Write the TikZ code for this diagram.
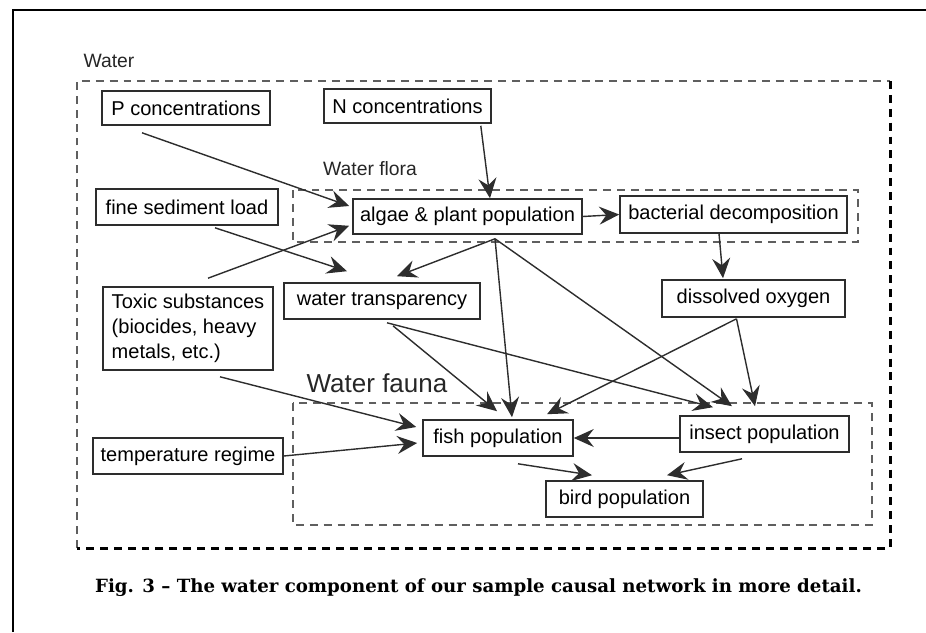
\documentclass[tikz,border=0pt]{standalone}
\usepackage{fontspec}
\setmainfont{Liberation Sans}
\newfontfamily\capfont{DejaVu Serif}
\usepackage{tikz}
\usetikzlibrary{arrows.meta,calc}
\usepackage{xcolor}
\tikzset{>={Stealth[length=4mm,width=3.6mm,inset=1.4mm]}}
\definecolor{linecolor}{RGB}{45,45,45}
\definecolor{dashcolor}{RGB}{95,95,95}
\def\px{0.02cm}
\tikzset{
  box/.style={draw=linecolor,line width=0.9pt,inner sep=2pt,minimum height=36*\px,
    font=\fontsize{11.4}{14.2}\selectfont},
  link/.style={->,draw=linecolor,line width=0.8pt},
  group/.style={draw=dashcolor,line width=0.9pt,dash pattern=on 4.5pt off 3.4pt},
  label/.style={font=\fontsize{11}{13}\selectfont,text=black!85}
}

\begin{document}
\begin{tikzpicture}[x=0.02cm,y=-0.02cm]
\useasboundingbox (0,0) rectangle (926,632);
\draw[line width=1.6pt] (13,632) -- (13,10) -- (926,10);
\draw[group,line width=1pt] (77,548) -- (77,81) -- (890,81);
\draw[black,line width=1.7pt,dash pattern=on 4.5pt off 3.4pt] (890,81) -- (890,548) -- (77,548);
\draw[group] (293,190) rectangle (858,242);
\draw[group,line width=0.8pt] (293,403) rectangle (872,525);

\node[label] (waterlbl) at (109,61) {Water};
\node[label] (floralbl) at (370,169) {Water flora};
\node[label,font=\fontsize{14.8}{17}\selectfont] (faunalbl) at (377,383) {Water fauna};

\node[box,minimum width=168*\px,minimum height=34*\px] (pconc) at (186,108) {P concentrations};
\node[box,minimum width=167*\px,minimum height=34*\px] (nconc) at (407.5,106) {N concentrations};
\node[box,minimum width=182*\px] (sediment) at (187,207) {fine sediment load};
\node[box,minimum width=229*\px,minimum height=35*\px] (algae) at (467.5,216.5) {algae \& plant population};
\node[box,minimum width=227*\px,minimum height=37*\px] (bact) at (733.5,214.5) {bacterial decomposition};
\node[box,minimum width=183*\px,minimum height=37*\px] (oxygen) at (753.5,298.5) {dissolved oxygen};
\node[box,minimum width=196*\px] (transp) at (382,301) {water transparency};
\node[box,minimum width=170*\px,minimum height=83*\px,align=left] (toxic) at (188,328.5)
  {Toxic substances\\(biocides, heavy\\metals, etc.)};
\node[box,minimum width=150*\px] (fish) at (498,438) {fish population};
\node[box,minimum width=190*\px] (temp) at (188,456) {temperature regime};
\node[box,minimum width=169*\px] (insect) at (764.5,434) {insect population};
\node[box,minimum width=157*\px] (bird) at (624.5,499) {bird population};

\coordinate (algaeout) at ($(algae.south)+(27.5,4)$);
\coordinate (oxyout) at ($(oxygen.south)+(-17,1)$);

\draw[link] ($(pconc.south)+(-44,7)$) -- ($(algae.west)+(-3,-10.5)$);
\draw[link] ($(nconc.south east)+(-11,2)$) -- ($(algae.north)+(22.5,0)$);
\draw[link] ($(toxic.north)+(20,-8)$) -- ($(algae.south west)+(-3,-9)$);
\draw[link] ($(sediment.south)+(28,2)$) -- ($(transp.north)+(-35,-11)$);
\draw[link] (algaeout) -- ($(transp.north)+(15,-6)$);
\draw[link] (algae.east) -- (bact.west);
\draw[link] ($(bact.south)+(-14.5,0)$) -- ($(oxygen.north)+(-30.5,-1)$);
\draw[link] (algaeout) -- ($(fish.north)+(14,-2)$);
\draw[link] (algaeout) -- ($(insect.north)+(-32.5,-9)$);
\draw[link] ($(transp.south)+(5,3)$) -- ($(insect.north)+(-51.5,-8)$);
\draw[link] ($(transp.south)+(11,6)$) -- ($(fish.north)+(-1,-8)$);
\draw[link] (oxyout) -- ($(fish.north)+(49,-5)$);
\draw[link] (oxyout) -- ($(insect.north)+(-9.5,-9)$);
\draw[link] ($(toxic.south)+(32,6)$) -- ($(fish.west)+(-6,-11)$);
\draw[link] (temp.east) -- ($(fish.west)+(-5,5)$);
\draw[link] (fish.east -| insect.west) -- (fish.east);
\draw[link] ($(fish.south)+(20,7)$) -- ($(bird.north)+(-32.5,-5)$);
\draw[link] ($(insect.south)+(-22.5,6)$) -- ($(bird.north)+(42.5,-5)$);

\node[font=\capfont\bfseries\fontsize{10.35}{13}\selectfont] (caption) at (478.5,588)
  {Fig. 3 – The water component of our sample causal network in more detail.};
\end{tikzpicture}
\end{document}
